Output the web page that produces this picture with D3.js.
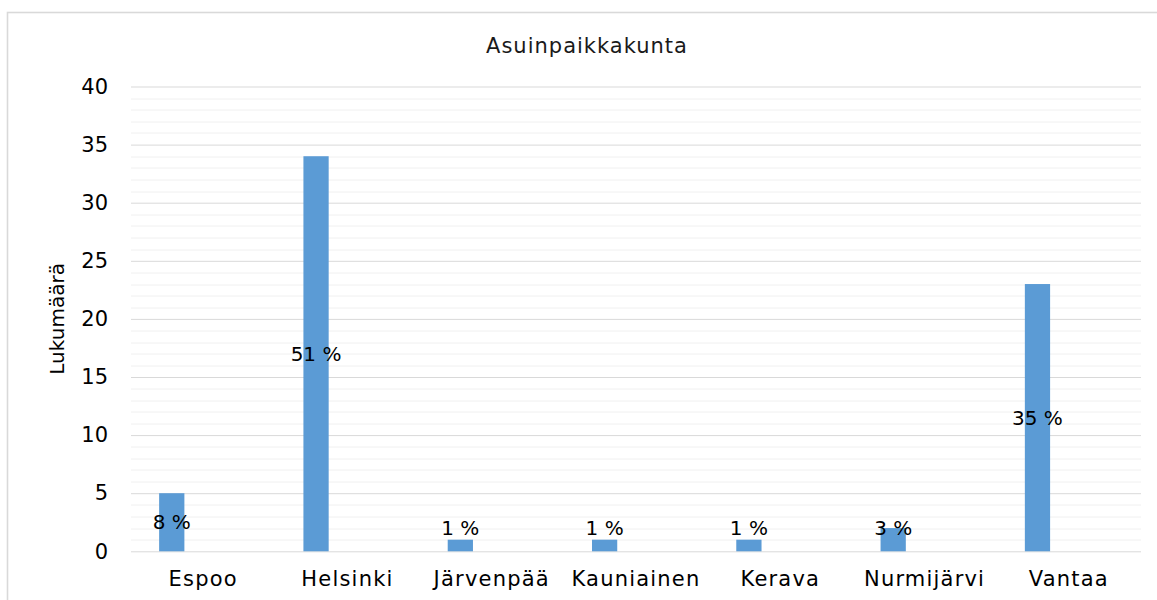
<!DOCTYPE html>
<html>
<head>
<meta charset="utf-8">
<script src="https://cdn.jsdelivr.net/npm/d3@7"></script>
<style>
  body { margin: 0; background: #fff; }
  svg { display: block; }
  text { font-family: "DejaVu Sans", Verdana, sans-serif; }
</style>
</head>
<body>
<svg id="chart" width="1157" height="600"></svg>
<script>
// chart data
var cities = ["Espoo", "Helsinki", "Järvenpää", "Kauniainen", "Kerava", "Nurmijärvi", "Vantaa"];
var counts = [5, 34, 1, 1, 1, 2, 23];
var percentLabels = ["8 %", "51 %", "1 %", "1 %", "1 %", "3 %", "35 %"];
var yTicks = [0, 5, 10, 15, 20, 25, 30, 35, 40];

var title = "Asuinpaikkakunta";
var yTitle = "Lukumäärä";

var margin = { top: 86.5, right: 16, bottom: 48.7, left: 131 },
    width = 1157 - margin.left - margin.right,
    height = 600 - margin.top - margin.bottom;

var svg = d3.select("#chart");

// outer chart border (continues past the picture edge)
svg.append("rect")
    .attr("x", 7.5)
    .attr("y", 12.5)
    .attr("width", 1200)
    .attr("height", 700)
    .attr("fill", "none")
    .attr("stroke", "#d9d9d9")
    .attr("stroke-width", 1.6);

var g = svg.append("g")
    .attr("transform", "translate(" + margin.left + "," + margin.top + ")");

var xScale = d3.scaleBand()
    .domain(cities)
    .range([0, width])
    .padding(0);

var yScale = d3.scaleLinear()
    .domain([0, 40])
    .range([height, 0]);

// minor gridlines every 1 unit
g.append("g")
    .selectAll("line")
    .data(d3.range(0, 41).filter(function (d) { return d % 5 != 0; }))
    .join("line")
    .attr("x1", 0)
    .attr("x2", width)
    .attr("y1", function (d) { return Math.round(yScale(d)) + 0.5; })
    .attr("y2", function (d) { return Math.round(yScale(d)) + 0.5; })
    .attr("stroke", "#f0f0f0")
    .attr("stroke-width", 1);

// major gridlines + y axis labels
var yAxis = d3.axisLeft(yScale)
    .tickValues(yTicks)
    .tickSize(-width)
    .tickPadding(23)
    .tickFormat(d3.format("d"));

g.append("g")
    .attr("class", "y axis")
    .call(yAxis)
    .call(function (a) {
        a.select(".domain").remove();
        a.selectAll(".tick line").attr("stroke", "#d9d9d9").attr("stroke-width", 1);
        a.selectAll(".tick text")
            .attr("fill", "#000")
            .style("font-size", "21px")
            .style("font-family", "'DejaVu Sans', sans-serif");
    });

// x axis labels
var xAxis = d3.axisBottom(xScale).tickSize(0).tickPadding(20);

g.append("g")
    .attr("class", "x axis")
    .attr("transform", "translate(0," + height + ")")
    .call(xAxis)
    .call(function (a) {
        a.select(".domain").remove();
        a.selectAll(".tick text")
            .attr("fill", "#000")
            .style("font-size", "21px")
            .style("letter-spacing", "1.2px")
            .style("font-family", "'DejaVu Sans', sans-serif");
    });

// bars sit in the left part of each category band
var barOffset = 0.195, barWidth = 0.175;

g.append("g")
    .selectAll("rect")
    .data(cities)
    .join("rect")
    .attr("x", function (d) { return xScale(d) + xScale.bandwidth() * barOffset; })
    .attr("y", function (d, i) { return yScale(counts[i]); })
    .attr("width", xScale.bandwidth() * barWidth)
    .attr("height", function (d, i) { return yScale(0) - yScale(counts[i]); })
    .attr("fill", "#5b9bd5");

// percent labels, centered in the bar but kept above the axis
g.append("g")
    .selectAll("text")
    .data(cities)
    .join("text")
    .attr("x", function (d) { return xScale(d) + xScale.bandwidth() * (barOffset + barWidth / 2); })
    .attr("y", function (d, i) { return Math.min(yScale(counts[i] / 2), yScale(0) - 23); })
    .attr("dy", "0.35em")
    .attr("text-anchor", "middle")
    .style("font-size", "20px")
    .attr("fill", "#000")
    .text(function (d, i) { return percentLabels[i]; });

// chart title
svg.append("text")
    .attr("x", 587)
    .attr("y", 53)
    .attr("text-anchor", "middle")
    .style("font-size", "21px")
    .style("letter-spacing", "1px")
    .attr("fill", "#1a1a1a")
    .text(title);

// y axis title
svg.append("text")
    .attr("transform", "translate(64," + (margin.top + height / 2) + ") rotate(-90)")
    .attr("text-anchor", "middle")
    .style("font-size", "20px")
    .attr("fill", "#000")
    .text(yTitle);
</script>
</body>
</html>
